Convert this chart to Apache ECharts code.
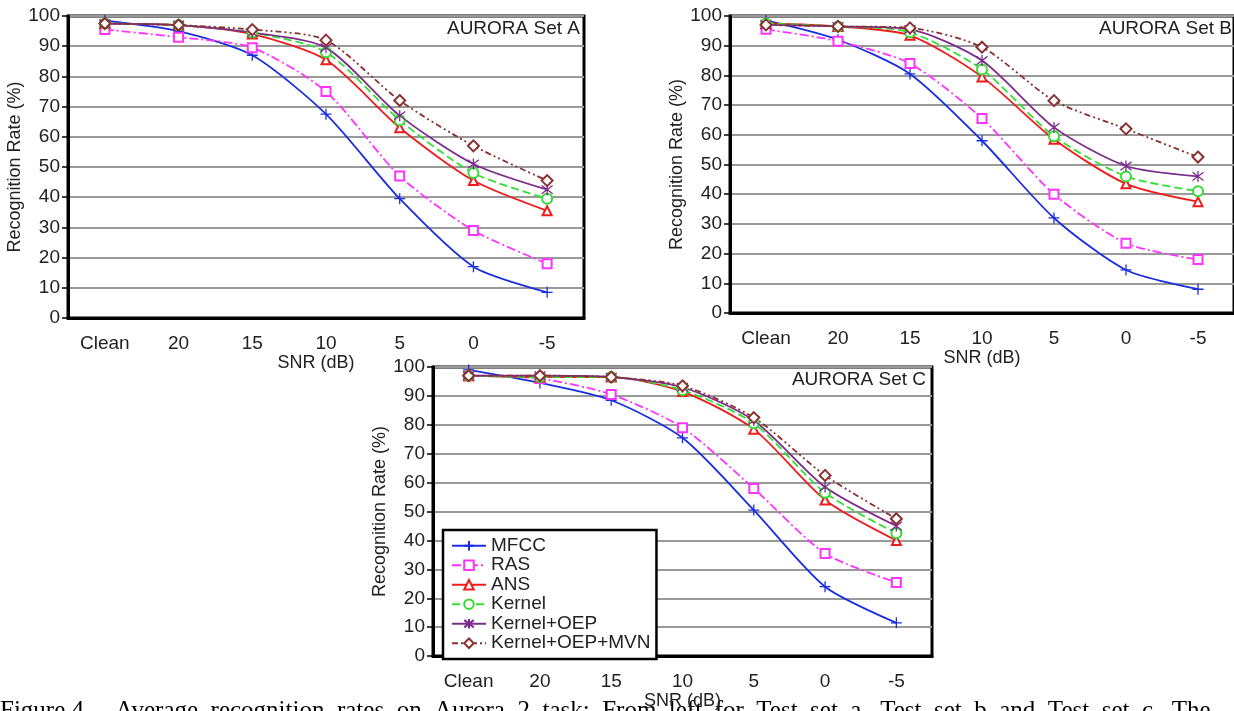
<!DOCTYPE html>
<html>
<head>
<meta charset="utf-8">
<title>AURORA recognition rates</title>
<script src="https://cdn.jsdelivr.net/npm/echarts@6/dist/echarts.min.js"></script>
<style>
  html, body { margin: 0; padding: 0; background: #fff; }
  #chart { width: 1234px; height: 711px; }
</style>
</head>
<body>
<div id="chart"></div>
<script>
// SNR categories (x axis)
var categories = ['Clean', '20', '15', '10', '5', '0', '-5'];
var seriesNames = ['MFCC', 'RAS', 'ANS', 'Kernel', 'Kernel+OEP', 'Kernel+OEP+MVN'];

// AURORA Set A
var mfccA   = [98.5, 95.0, 87.0, 67.5, 39.5, 17.0, 8.5];
var rasA    = [95.5, 93.0, 89.5, 75.0, 47.0, 29.0, 18.0];
var ansA    = [97.5, 97.0, 94.0, 85.5, 63.0, 45.5, 35.5];
var kernelA = [97.5, 97.0, 94.5, 88.0, 65.5, 48.0, 39.5];
var oepA    = [97.5, 97.0, 94.5, 89.5, 67.0, 51.0, 42.5];
var mvnA    = [97.5, 97.0, 95.5, 92.0, 72.0, 57.0, 45.5];

// AURORA Set B
var mfccB   = [98.5, 92.0, 80.5, 58.0, 32.0, 14.5, 8.0];
var rasB    = [95.5, 91.5, 84.0, 65.5, 40.0, 23.5, 18.0];
var ansB    = [97.5, 96.5, 93.5, 79.5, 58.5, 43.5, 37.5];
var kernelB = [97.5, 96.5, 94.5, 82.0, 59.5, 46.0, 41.0];
var oepB    = [97.0, 96.5, 95.5, 85.0, 62.5, 49.5, 46.0];
var mvnB    = [97.0, 96.5, 96.0, 89.5, 71.5, 62.0, 52.5];

// AURORA Set C
var mfccC   = [99.0, 94.5, 88.5, 75.5, 50.5, 24.0, 11.5];
var rasC    = [97.0, 96.0, 90.5, 79.0, 58.0, 35.5, 25.5];
var ansC    = [97.0, 96.5, 96.5, 91.5, 78.5, 54.0, 40.0];
var kernelC = [97.0, 96.5, 96.5, 92.0, 80.5, 56.5, 42.5];
var oepC    = [97.0, 97.0, 96.5, 93.0, 81.5, 58.5, 45.0];
var mvnC    = [97.0, 97.0, 96.5, 93.5, 82.5, 62.5, 47.5];

var FONT = 'Liberation Sans, Arial, sans-serif';

// look of each method
var looks = [
  { color: '#1a2ee0', type: 'solid', symbol: 'path://M5,0L5,10M0,5L10,5', size: 11 },
  { color: '#ff33ff', type: [9, 3, 2, 3], symbol: 'emptyRect', size: 9 },
  { color: '#ee1c1c', type: 'solid', symbol: 'emptyTriangle', size: 9 },
  { color: '#33dd33', type: [8, 4], symbol: 'emptyCircle', size: 10 },
  { color: '#7b2d8b', type: 'solid', symbol: 'path://M5,0L5,10M1.2,1.2L8.8,8.8M1.2,8.8L8.8,1.2', size: 11 },
  { color: '#8b3030', type: [6, 3, 2, 3, 2, 3], symbol: 'emptyDiamond', size: 11 }
];

var sets = [
  [mfccA, rasA, ansA, kernelA, oepA, mvnA],
  [mfccB, rasB, ansB, kernelB, oepB, mvnB],
  [mfccC, rasC, ansC, kernelC, oepC, mvnC]
];

var grids = [
  { left: 68, top: 16, width: 516, height: 302 },
  { left: 730, top: 16, width: 510, height: 297 },
  { left: 433, top: 367, width: 499, height: 293 }
];
var snrGap = [31, 35, 31];
var snrPad = [[0, 20, 0, 0], [0, 0, 0, 0], [0, 0, 0, 0]];

var xAxes = [], yAxes = [], series = [];
grids.forEach(function (g, i) {
  g.show = true;
  g.borderColor = '#000';
  g.borderWidth = 3;
  g.backgroundColor = '#fff';
  xAxes.push({
    gridIndex: i,
    type: 'category',
    data: categories,
    name: 'SNR (dB)',
    nameLocation: 'middle',
    nameGap: snrGap[i],
    nameTextStyle: { fontFamily: FONT, fontSize: 18, color: '#222', padding: snrPad[i] },
    axisLine: { lineStyle: { color: '#000', width: 3 } },
    axisTick: { length: 6, lineStyle: { color: '#000', width: 1.5 } },
    axisLabel: { fontFamily: FONT, fontSize: 19, color: '#222', margin: 16 },
    splitLine: { show: false }
  });
  yAxes.push({
    gridIndex: i,
    type: 'value',
    min: 0, max: 100, interval: 10,
    name: 'Recognition Rate (%)',
    nameLocation: 'middle',
    nameGap: 35,
    nameTextStyle: { fontFamily: FONT, fontSize: 18, color: '#222' },
    axisLine: { show: true, lineStyle: { color: '#000', width: 3 } },
    axisTick: { show: true, length: 6, lineStyle: { color: '#000', width: 1.5 } },
    axisLabel: { fontFamily: FONT, fontSize: 19, color: '#222', margin: 8 },
    splitLine: { lineStyle: { color: '#999', width: 2 } }
  });
  sets[i].forEach(function (vals, k) {
    var lk = looks[k];
    series.push({
      name: seriesNames[k],
      type: 'line',
      xAxisIndex: i,
      yAxisIndex: i,
      data: vals,
      smooth: 0.25,
      symbol: lk.symbol,
      symbolSize: lk.size,
      showAllSymbol: true,
      lineStyle: { color: lk.color, width: 1.8, type: lk.type },
      itemStyle: { color: lk.color, borderColor: lk.color, borderWidth: 1.3 },
      emphasis: { disabled: true },
      animation: false
    });
  });
});

var chart = echarts.init(document.getElementById('chart'));
var option = {
  backgroundColor: '#fff',
  animation: false,
  title: [
    { text: 'AURORA Set A', right: 654, top: 19, padding: 0,
      textStyle: { fontFamily: FONT, fontSize: 19, fontWeight: 'normal', color: '#222' } },
    { text: 'AURORA Set B', right: 2, top: 19, padding: 0,
      textStyle: { fontFamily: FONT, fontSize: 19, fontWeight: 'normal', color: '#222' } },
    { text: 'AURORA Set C', right: 308, top: 370, padding: 0,
      textStyle: { fontFamily: FONT, fontSize: 19, fontWeight: 'normal', color: '#222' } }
  ],
  legend: {
    data: seriesNames,
    orient: 'vertical',
    left: 443,
    top: 530,
    padding: [6, 6, 6, 8],
    itemWidth: 34,
    itemHeight: 12,
    itemGap: 0,
    backgroundColor: '#fff',
    borderColor: '#000',
    borderWidth: 2.5,
    textStyle: { fontFamily: FONT, fontSize: 19, color: '#222', lineHeight: 19.5 }
  },
  grid: grids,
  xAxis: xAxes,
  yAxis: yAxes,
  series: series,
  graphic: [
    { type: 'text', left: 0, top: 699,
      style: { text: 'Figure 4.    Average  recognition  rates  on  Aurora  2  task:  From  left  for  Test  set  a,  Test  set  b  and  Test  set  c.  The',
               font: '25px "Liberation Serif", "Times New Roman", serif', fill: '#000' } }
  ]
};
chart.setOption(option);
</script>
</body>
</html>
